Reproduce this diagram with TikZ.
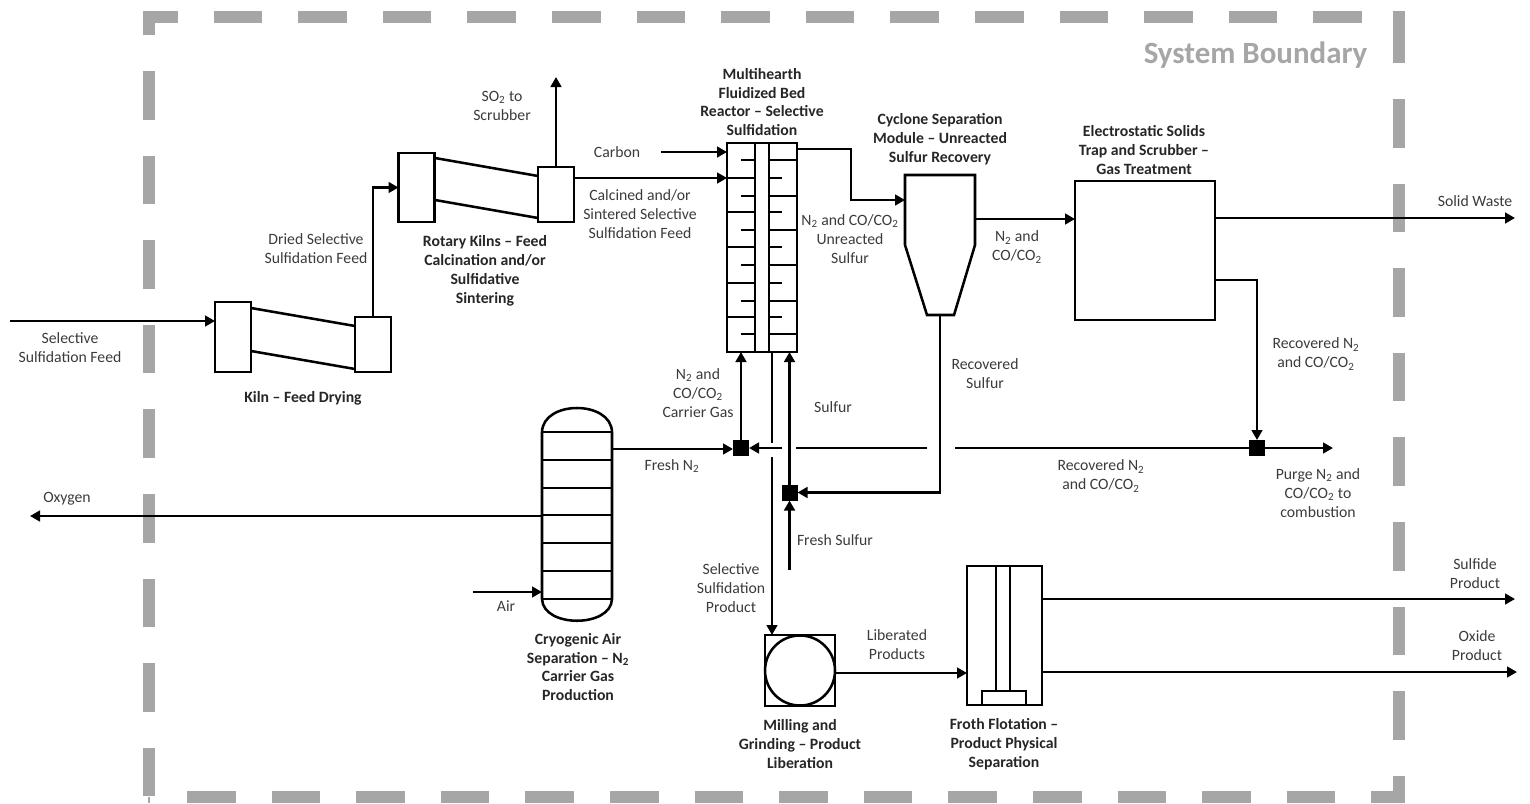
\documentclass[tikz,border=0pt]{standalone}
\usepackage{fontspec}
\setmainfont{Carlito}
\usetikzlibrary{arrows.meta}

\definecolor{boundarygrey}{HTML}{A6A6A6}
\definecolor{labelgrey}{HTML}{3B3B3B}
\newcommand{\subtwo}{\textsubscript{2}}

\tikzset{
    equip/.style 2 args={draw, line width=1.9pt, minimum width=#1*0.75pt, minimum height=#2*0.75pt, inner sep=0pt, outer sep=0pt},
    shell/.style={draw, line width=1.9pt},
    flow/.style={draw, line width=1.9pt, -{Triangle[length=7.5pt,width=8pt]}},
    pipe/.style={draw, line width=1.9pt},
    junction/.style={fill=black, minimum size=12pt, inner sep=0pt, outer sep=0pt},
    note/.style={align=center, inner sep=0pt, text=labelgrey, font=\fontsize{11.8}{14.2}\selectfont},
    title/.style={align=center, inner sep=0pt, text=black!85, font=\fontsize{11.8}{14.2}\selectfont\bfseries},
    boundary/.style={draw=boundarygrey, line width=9pt, dash pattern=on 36.45pt off 27pt}
}

\begin{document}
\begin{tikzpicture}[x=0.75pt, y=-0.75pt]
    \useasboundingbox (0,0) rectangle (1530,803);

    % system boundary
    \draw[boundary, dash phase=10.5pt] (143,16.5) -- (1363,16.5);
    \draw[boundary, dash phase=18.45pt] (149,11) -- (149,797);
    \draw[boundary] (187,796.5) -- (1405,796.5);
    \draw[boundary] (1399,14.3) -- (1399,803);
    \draw[draw=boundarygrey, line width=9pt] (1399,11) -- (1399,20);
    \draw[draw=boundarygrey, line width=1.5pt] (149,797) -- (149,803);
    \node[inner sep=0pt, text=boundarygrey, font=\fontsize{23.2}{28}\selectfont\bfseries] (boundarylabel) at (1255.5,55) {System Boundary};

    % kilns
    \node[equip={36}{70}] (kilnleft) at (233,337) {};
    \node[equip={36}{55}] (kilnright) at (373,344.5) {};
    \draw[shell] (251,308) -- (355,326);
    \draw[shell] (251,351) -- (355,369);
    \node[equip={36}{69}] (rotaryleft) at (416.5,187.5) {};
    \node[equip={36}{55}] (rotaryright) at (556,194.5) {};
    \draw[shell] (435,158) -- (538,176);
    \draw[shell] (435,200) -- (538,218);

    % reactor
    \node[equip={70}{209}] (reactor) at (762,247.5) {};
    \node[equip={14}{209}] (reactorcore) at (762,247.5) {};
    \foreach \y in {178,212,247,283,317} {
        \draw[shell, line width=1.6pt] (727,\y) -- (755,\y);
        \draw[shell, line width=1.6pt] (769,\y) -- (782,\y);
    }
    \foreach \y in {160,196,230,265,301,334} {
        \draw[shell, line width=1.6pt] (741,\y) -- (755,\y);
        \draw[shell, line width=1.6pt] (769,\y) -- (797,\y);
    }

    % cyclone
    \coordinate (cyclonein) at (905,200);
    \coordinate (cycloneout) at (975,219);
    \coordinate (cyclonebase) at (940,315);
    \draw[shell] (905,175) -- (975,175) -- (975,245) -- (954,315)
        -- (927,315) -- (905,245) -- cycle;

    % gas treatment
    \node[equip={140}{139}] (gasbox) at (1145,250.5) {};

    % air separation column
    \coordinate (columnn) at (612,449);
    \coordinate (columnoxy) at (542,516);
    \coordinate (columnair) at (542,592);
    \draw[shell] (542,432) .. controls (543,400) and (611,400) .. (612,432) -- (612,599)
        .. controls (611,628) and (543,628) .. (542,599) -- cycle;
    \foreach \y in {432,460,488,515,543,571,599} {
        \draw[shell, line width=1.6pt] (542,\y) -- (612,\y);
    }

    % mill
    \node[equip={70}{71}] (millbox) at (800,670.5) {};
    \draw[shell] (millbox.center) circle[radius=35];

    % flotation
    \node[equip={75}{139}] (flotation) at (1004.5,635.5) {};
    \node[equip={44}{14}] (flotationbase) at (1004,698) {};
    \draw[shell] (996,566) -- (996,691);
    \draw[shell] (1010,566) -- (1010,691);

    % junctions
    \node[junction] (junctionn) at (741,448) {};
    \node[junction] (junctions) at (789.5,492.5) {};
    \node[junction] (junctionr) at (1257,448) {};

    % free ends and bends
    \coordinate (feedstart) at (10,321);
    \coordinate (so2end) at (556,77);
    \coordinate (carbonstart) at (661,152);
    \coordinate (reactorout) at (797,149);
    \coordinate (wasteend) at (1515,218);
    \coordinate (recycleout) at (1215,280);
    \coordinate (purgeend) at (1333,448);
    \coordinate (oxygenend) at (30,516);
    \coordinate (airstart) at (473,592);
    \coordinate (freshsulfur) at (789.5,570);
    \coordinate (sulfurup) at (789.5,352);
    \coordinate (productdown) at (772,352);
    \coordinate (sulfideend) at (1515,599);
    \coordinate (oxideend) at (1517,672);
    \coordinate (hopa) at (782,448);
    \coordinate (hopb) at (796,448);
    \coordinate (hopc) at (927,448);
    \coordinate (hopd) at (955,448);
    \coordinate (hope) at (772,443);
    \coordinate (hopf) at (772,457);

    % connectors
    \draw[flow] (feedstart) -- (feedstart -| kilnleft.west);
    \draw[flow] (kilnright.north) |- (rotaryleft.west);
    \draw[flow] (rotaryright.north) -- (so2end);
    \draw[flow] (carbonstart) -- (carbonstart -| reactor.west);
    \draw[flow] (rotaryright.east |- 0,178) -- (reactor.west |- 0,178);
    \draw[flow] (reactorout) -| (851,200) -- (cyclonein);
    \draw[flow] (cycloneout) -- (cycloneout -| gasbox.west);
    \draw[flow] (gasbox.east |- wasteend) -- (wasteend);
    \draw[flow] (recycleout) -| (junctionr.north);
    \draw[flow] (junctionr.east) -- (purgeend);
    \draw[pipe] (junctionr.west) -- (hopd);
    \draw[pipe] (hopc) -- (hopb);
    \draw[flow] (hopa) -- (junctionn.east);
    \draw[flow] (junctionn.north) -- (junctionn.north |- reactor.south);
    \draw[flow] (columnn) -- (junctionn.west |- columnn);
    \draw[flow] (columnoxy) -- (oxygenend);
    \draw[flow] (airstart) -- (columnair);
    \draw[flow] (cyclonebase) |- (junctions.east);
    \draw[flow] (freshsulfur) -- (junctions.south);
    \draw[flow] (junctions.north) -- (sulfurup);
    \draw[pipe] (productdown) -- (hope);
    \draw[flow] (hopf) -- (hopf |- millbox.north);
    \draw[flow] (millbox.east |- 0,673) -- (flotation.west |- 0,673);
    \draw[flow] (flotation.east |- sulfideend) -- (sulfideend);
    \draw[flow] (flotation.east |- oxideend) -- (oxideend);

    % stream labels
    \node[note] (feedlabel) at (70,348) {Selective\\Sulfidation Feed};
    \node[note] (driedlabel) at (316,249) {Dried Selective\\Sulfidation Feed};
    \node[note] (so2label) at (502,106) {SO\subtwo{} to\\Scrubber};
    \node[note] (carbonlabel) at (617,152) {Carbon};
    \node[note] (calcinedlabel) at (640,214) {Calcined and/or\\Sintered Selective\\Sulfidation Feed};
    \node[note] (unreactedlabel) at (850,239) {N\subtwo{} and CO/CO\subtwo{}\\Unreacted\\Sulfur};
    \node[note] (cycloneoutlabel) at (1017,247) {N\subtwo{} and\\CO/CO\subtwo{}};
    \node[note] (wastelabel) at (1475,201) {Solid Waste};
    \node[note] (recoveredalabel) at (1316,354) {Recovered N\subtwo{}\\and CO/CO\subtwo{}};
    \node[note] (sulfurreclabel) at (985,374) {Recovered\\Sulfur};
    \node[note] (sulfurlabel) at (833,407) {Sulfur};
    \node[note] (carrierlabel) at (698,393) {N\subtwo{} and\\CO/CO\subtwo{}\\Carrier Gas};
    \node[note] (freshnlabel) at (672,466) {Fresh N\subtwo{}};
    \node[note] (recoveredblabel) at (1101,476) {Recovered N\subtwo{}\\and CO/CO\subtwo{}};
    \node[note] (purgelabel) at (1318,493) {Purge N\subtwo{} and\\CO/CO\subtwo{} to\\combustion};
    \node[note] (oxygenlabel) at (67,499) {Oxygen};
    \node[note] (freshslabel) at (835,540) {Fresh Sulfur};
    \node[note] (airlabel) at (506,606) {Air};
    \node[note] (productlabel) at (731,588) {Selective\\Sulfidation\\Product};
    \node[note] (liberatedlabel) at (897,645) {Liberated\\Products};
    \node[note] (sulfidelabel) at (1475,574) {Sulfide\\Product};
    \node[note] (oxidelabel) at (1477,646) {Oxide\\Product};

    % equipment labels
    \node[title] (kilntitle) at (303,398) {Kiln -- Feed Drying};
    \node[title] (rotarytitle) at (485,271) {Rotary Kilns -- Feed\\Calcination and/or\\Sulfidative\\Sintering};
    \node[title] (reactortitle) at (762,102) {Multihearth\\Fluidized Bed\\Reactor -- Selective\\Sulfidation};
    \node[title] (cyclonetitle) at (940,139) {Cyclone Separation\\Module -- Unreacted\\Sulfur Recovery};
    \node[title] (gastitle) at (1144,150) {Electrostatic Solids\\Trap and Scrubber --\\Gas Treatment};
    \node[title] (columntitle) at (578,667) {Cryogenic Air\\Separation -- N\subtwo{}\\Carrier Gas\\Production};
    \node[title] (milltitle) at (800,744) {Milling and\\Grinding -- Product\\Liberation};
    \node[title] (flotationtitle) at (1004,744) {Froth Flotation --\\Product Physical\\Separation};
\end{tikzpicture}
\end{document}
